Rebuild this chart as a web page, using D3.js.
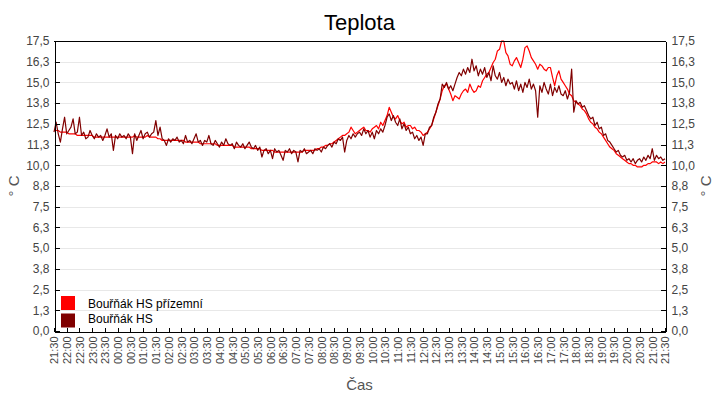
<!DOCTYPE html>
<html>
<head>
<meta charset="utf-8">
<script src="https://cdn.jsdelivr.net/npm/d3@7/dist/d3.min.js"></script>
<style>
  html, body { margin: 0; padding: 0; background: #fff; }
  svg { display: block; font-family: "Liberation Sans", Arial, sans-serif; }
</style>
</head>
<body>
<svg id="chart" width="720" height="400"></svg>
<script>
// ---- data ----
const title = "Teplota";
const xTitle = "Čas";
const yTitle = "° C";
const seriesNames = ["Bouřňák HS přízemní", "Bouřňák HS"];
const seriesColors = ["#ff0000", "#800000"];

const xTickLabels = ["21:30","22:00","22:30","23:00","23:30","00:00","00:30","01:00","01:30","02:00","02:30","03:00","03:30","04:00","04:30","05:00","05:30","06:00","06:30","07:00","07:30","08:00","08:30","09:00","09:30","10:00","10:30","11:00","11:30","12:00","12:30","13:00","13:30","14:00","14:30","15:00","15:30","16:00","16:30","17:00","17:30","18:00","18:30","19:00","19:30","20:00","20:30","21:00","21:30"];
const yTickValues = [0, 1.25, 2.5, 3.75, 5, 6.25, 7.5, 8.75, 10, 11.25, 12.5, 13.75, 15, 16.25, 17.5];
const yTickLabels = ["0,0","1,3","2,5","3,8","5,0","6,3","7,5","8,8","10,0","11,3","12,5","13,8","15,0","16,3","17,5"];

// minutes after 21:30 between samples
const stepGround = 5;   // Bouřňák HS přízemní
const stepHS = 5;       // Bouřňák HS

const ground = [
  12.1, 12.1, 12.1, 12.0, 12.0, 12.0, 12.0, 11.9, 11.9, 11.9, 11.9, 11.8,
  11.8, 11.8, 11.8, 11.8, 11.8, 11.8, 11.8, 11.7, 11.7, 11.7, 11.7, 11.7,
  11.7, 11.7, 11.7, 11.7, 11.7, 11.7, 11.7, 11.7, 11.7, 11.7, 11.7, 11.7,
  11.7, 11.7, 11.8, 11.7, 11.7, 11.7, 11.7, 11.7, 11.8, 11.7, 11.7, 11.7,
  11.7, 11.6, 11.6, 11.5, 11.5, 11.5, 11.5, 11.5, 11.5, 11.5, 11.5, 11.5,
  11.5, 11.5, 11.4, 11.4, 11.4, 11.4, 11.4, 11.4, 11.4, 11.3, 11.3, 11.3,
  11.3, 11.3, 11.3, 11.3, 11.3, 11.2, 11.2, 11.2, 11.2, 11.2, 11.2, 11.2,
  11.2, 11.1, 11.1, 11.1, 11.1, 11.1, 11.1, 11.1, 11.1, 11.0, 11.0, 11.0,
  11.0, 11.0, 10.9, 10.9, 10.9, 10.9, 10.9, 10.9, 10.8, 10.8, 10.8, 10.8,
  10.8, 10.8, 10.8, 10.8, 10.8, 10.8, 10.8, 10.8, 10.8, 10.8, 10.9, 10.9,
  10.9, 10.9, 10.9, 10.9, 11.0, 11.0, 11.1, 11.1, 11.2, 11.2, 11.3, 11.3,
  11.4, 11.5, 11.6, 11.7, 11.8, 11.8, 11.9, 12.0, 12.3, 12.1, 11.9, 12.0,
  12.1, 12.2, 12.3, 12.1, 12.1, 12.0, 12.2, 12.3, 12.4, 12.2, 12.6, 12.4,
  12.7, 13.0, 13.5, 13.2, 12.9, 12.8, 13.0, 12.7, 12.5, 12.6, 12.3, 12.4,
  12.4, 12.2, 12.3, 12.1, 12.1, 12.0, 11.8, 11.9, 12.0, 12.2, 12.4, 12.8,
  13.2, 13.6, 14.0, 14.5, 14.8, 14.9, 14.6, 14.3, 13.9, 14.2, 14.1, 14.0,
  14.3, 14.5, 14.6, 14.4, 14.9, 14.6, 14.4, 14.5, 14.8, 14.7, 15.1, 15.3,
  15.5, 15.6, 15.9, 16.2, 16.4, 16.9, 17.0, 17.5, 17.5, 16.8, 16.6, 16.1,
  16.0, 16.3, 16.5, 16.2, 15.9, 16.4, 17.1, 17.2, 16.9, 16.5, 16.3, 16.1,
  15.8, 16.1, 16.0, 15.8, 15.7, 15.9, 15.9, 15.3, 14.8, 15.4, 15.7, 15.2,
  15.0, 14.8, 14.6, 14.3, 14.2, 13.9, 13.8, 13.7, 13.6, 13.4, 13.3, 13.1,
  12.8, 12.6, 12.5, 12.3, 12.2, 12.0, 11.9, 11.7, 11.5, 11.3, 11.1, 11.0,
  10.9, 10.7, 10.6, 10.5, 10.4, 10.3, 10.2, 10.1, 10.1, 10.0, 10.0, 9.9,
  9.9, 9.9, 10.0, 10.0, 10.1, 10.1, 10.2, 10.2, 10.2, 10.1, 10.2, 10.1,
  10.2
];

const hs = [
  12.0, 12.6, 11.9, 11.4, 12.2, 12.9, 11.9, 12.1, 12.3, 12.8, 11.9, 12.0,
  12.9, 11.8, 12.0, 11.6, 11.7, 12.1, 11.8, 11.6, 11.9, 11.7, 11.8, 11.5,
  11.8, 12.2, 11.7, 11.9, 10.9, 11.8, 11.6, 11.9, 11.7, 11.8, 11.6, 11.9,
  11.7, 10.7, 11.9, 11.5, 11.8, 12.1, 11.6, 11.9, 12.0, 11.7, 11.9, 12.0,
  12.7, 11.8, 12.3, 11.6, 11.5, 11.2, 11.6, 11.4, 11.6, 11.5, 11.7, 11.4,
  11.5, 11.3, 11.8, 11.4, 11.5, 11.3, 11.6, 11.9, 11.4, 11.5, 11.2, 11.5,
  11.4, 11.8, 11.3, 11.2, 11.5, 11.3, 11.1, 11.4, 11.2, 11.6, 11.3, 11.2,
  11.3, 11.0, 11.4, 11.2, 11.1, 11.3, 11.0, 11.2, 11.4, 11.1, 11.0, 11.2,
  10.9, 11.1, 10.5, 10.9, 11.0, 10.7, 10.9, 10.4, 11.0, 10.8, 10.9, 10.6,
  10.3, 10.9, 10.8, 11.0, 10.7, 10.9, 10.8, 10.2, 10.9, 10.8, 11.0, 10.7,
  10.8, 10.9, 10.7, 11.0, 10.9, 11.0, 10.8, 11.1, 11.0, 11.2, 11.3, 11.1,
  11.4, 11.3, 11.6, 11.5, 11.7, 10.8, 11.5, 11.8, 11.6, 11.9, 11.7, 11.9,
  12.0, 11.8, 12.2, 11.9, 12.1, 11.7, 12.0, 11.6, 12.1, 11.9, 12.2, 12.0,
  12.4, 12.9, 13.1, 12.7, 13.0, 12.6, 12.4, 12.8, 12.2, 12.5, 12.1, 12.3,
  11.9, 12.0, 11.6, 11.8, 11.5, 11.7, 11.2, 11.9, 11.9, 12.3, 12.4, 12.9,
  13.2, 13.7, 14.0, 14.9, 14.7, 15.0, 14.6, 14.8, 14.5, 14.9, 15.3, 15.6,
  15.4, 15.8, 15.5, 15.9, 15.6, 16.4, 15.7, 16.0, 15.4, 15.8, 15.5, 15.9,
  15.3, 15.6, 15.1, 16.0, 15.4, 15.2, 15.6, 15.0, 15.3, 14.8, 15.2, 14.9,
  15.0, 14.6, 15.1, 14.5, 14.9, 14.4, 15.0, 14.7, 15.2, 14.6, 14.9, 14.5,
  12.9, 14.8, 14.4, 15.0, 14.6, 14.3, 14.9, 14.2, 14.7, 14.4, 14.8, 14.3,
  14.2, 14.5, 14.0, 14.4, 15.8, 13.2, 13.9, 13.7, 13.8, 13.5, 13.6, 13.3,
  13.0, 12.8, 12.9, 12.4, 12.6, 12.2, 12.3, 11.8, 11.9, 11.5, 11.4, 11.2,
  11.0, 10.8, 10.9, 10.6, 10.5, 10.6, 10.3, 10.4, 10.2, 10.4, 10.1, 10.3,
  10.4, 10.2, 10.5, 10.3, 10.6, 10.4, 11.0, 10.3, 10.6, 10.4, 10.5, 10.3,
  10.4
];

// ---- layout ----
const W = 720, H = 400;
const m = { left: 54, right: 55, top: 41, bottom: 69 };
const svg = d3.select("#chart");

const xTickMinutes = xTickLabels.map((d, i) => i * 30);
const x = d3.scaleLinear().domain([0, 1440]).range([m.left, W - m.right]);
const y = d3.scaleLinear().domain([0, 17.5]).range([H - m.bottom, m.top]);

// grid
svg.append("g")
  .selectAll("line")
  .data(yTickValues.slice(1, -1))
  .join("line")
  .attr("x1", m.left).attr("x2", W - m.right)
  .attr("y1", d => Math.round(y(d)) + 0.5).attr("y2", d => Math.round(y(d)) + 0.5)
  .attr("stroke", "#e8e8e8").attr("stroke-width", 1)
  .attr("shape-rendering", "crispEdges");

// series
const series = [
  { name: seriesNames[0], color: seriesColors[0], values: ground, step: stepGround },
  { name: seriesNames[1], color: seriesColors[1], values: hs, step: stepHS }
];
const line = d3.line()
  .x(d => x(d[0]))
  .y(d => y(d[1]))
  .curve(d3.curveLinear);

const plot = svg.append("g");
series.forEach(s => {
  const pts = s.values.map((v, i) => [i * s.step, v]);
  plot.append("path")
    .attr("d", line(pts))
    .attr("fill", "none")
    .attr("stroke", s.color)
    .attr("stroke-width", 1.2)
    .attr("stroke-linejoin", "round");
});

// axes
function styleAxis(g, fs) {
  g.selectAll("path").attr("stroke", "#000").attr("shape-rendering", "crispEdges");
  g.selectAll("line").attr("stroke", "#000").attr("shape-rendering", "crispEdges");
  g.selectAll("text").attr("fill", "#444").style("font-size", fs + "px")
    .style("font-family", '"Liberation Sans", Arial, sans-serif');
}

const yLeft = d3.axisLeft(y).tickValues(yTickValues)
  .tickFormat((d, i) => yTickLabels[i]).tickSizeInner(-5).tickSizeOuter(0).tickPadding(5);
svg.append("g").attr("transform", `translate(${m.left + 0.5},0)`).call(yLeft).call(g => styleAxis(g, 12));

const yRight = d3.axisRight(y).tickValues(yTickValues)
  .tickFormat((d, i) => yTickLabels[i]).tickSizeInner(-5).tickSizeOuter(0).tickPadding(6);
svg.append("g").attr("transform", `translate(${W - m.right + 0.5},0)`).call(yRight).call(g => styleAxis(g, 12));

const xAxis = d3.axisBottom(x).tickValues(xTickMinutes)
  .tickFormat((d, i) => xTickLabels[i]).tickSizeInner(-4).tickSizeOuter(0).tickPadding(5);
const gx = svg.append("g").attr("transform", `translate(0,${H - m.bottom + 0.5})`).call(xAxis);
styleAxis(gx, 11);
gx.selectAll("text")
  .attr("transform", "rotate(-90)")
  .attr("text-anchor", "end")
  .attr("x", -5).attr("y", 0).attr("dy", "0.35em");

// top border
svg.append("line")
  .attr("x1", m.left).attr("x2", W - m.right + 1)
  .attr("y1", m.top + 0.5).attr("y2", m.top + 0.5)
  .attr("stroke", "#000").attr("shape-rendering", "crispEdges");

// titles
svg.append("text").attr("x", (m.left + W - m.right) / 2).attr("y", 30)
  .attr("text-anchor", "middle").attr("fill", "#000").style("font-size", "22px").text(title);

svg.append("text").attr("x", (m.left + W - m.right) / 2).attr("y", 390)
  .attr("text-anchor", "middle").attr("fill", "#555").style("font-size", "15px").text(xTitle);

svg.append("text").attr("transform", `translate(19,${(m.top + H - m.bottom) / 2}) rotate(-90)`)
  .attr("text-anchor", "middle").attr("fill", "#555").style("font-size", "15px").text(yTitle);
svg.append("text").attr("transform", `translate(711,${(m.top + H - m.bottom) / 2}) rotate(-90)`)
  .attr("text-anchor", "middle").attr("fill", "#555").style("font-size", "15px").text(yTitle);

// legend
const lg = svg.append("g");
series.forEach((s, i) => {
  lg.append("rect").attr("x", 61).attr("y", 296 + i * 17.5).attr("width", 14).attr("height", 14)
    .attr("fill", s.color);
  lg.append("text").attr("x", 88).attr("y", 308 + i * 15)
    .attr("fill", "#000").style("font-size", "12px").text(s.name);
});
</script>
</body>
</html>
